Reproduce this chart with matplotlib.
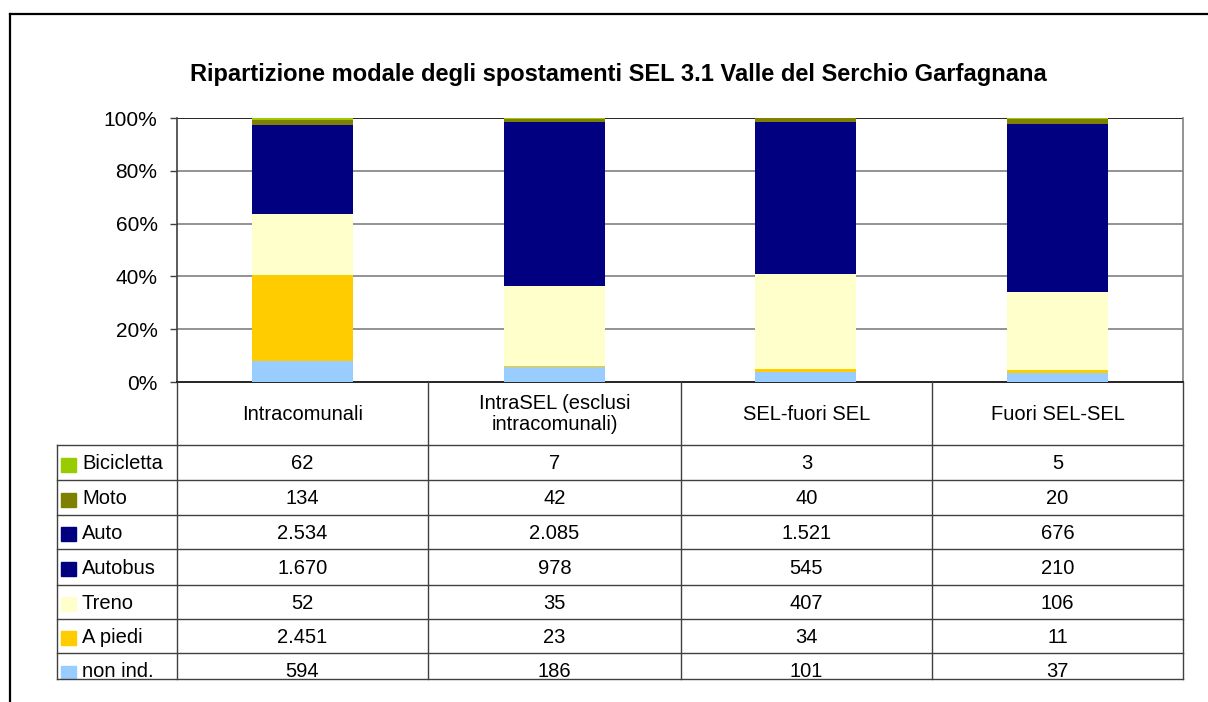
import numpy as np
import matplotlib
matplotlib.use("Agg")
import matplotlib.pyplot as plt
from matplotlib.patches import Rectangle

plt.rcParams['font.family'] = ['Liberation Sans', 'DejaVu Sans']

title = "Ripartizione modale degli spostamenti SEL 3.1 Valle del Serchio Garfagnana"
categories = ["Intracomunali", "IntraSEL (esclusi\nintracomunali)", "SEL-fuori SEL", "Fuori SEL-SEL"]

# series listed bottom-up as stacked in the bars
series = ["non ind.", "A piedi", "Treno", "Autobus", "Auto", "Moto", "Bicicletta"]
non_ind = [594, 186, 101, 37]
a_piedi = [2451, 23, 34, 11]
treno = [52, 35, 407, 106]
autobus = [1670, 978, 545, 210]
auto = [2534, 2085, 1521, 676]
moto = [134, 42, 40, 20]
bicicletta = [62, 7, 3, 5]
values = [non_ind, a_piedi, treno, autobus, auto, moto, bicicletta]

bar_colors = ["#99CCFF", "#FFCC00", "#FFFFCC", "#FFFFCC", "#000080", "#808000", "#99CC00"]
key_colors = ["#99CCFF", "#FFCC00", "#FFFFCC", "#000080", "#000080", "#808000", "#99CC00"]


def fmt(v):
    return "{:,}".format(v).replace(",", ".")


W, H = 1208, 702
fig = plt.figure(figsize=(W / 100, H / 100), dpi=100)

# plot area in pixel coords
x0, x1 = 177, 1183
y_top, y_bot = 118, 382
ax = fig.add_axes([x0 / W, 1 - y_bot / H, (x1 - x0) / W, (y_bot - y_top) / H])

data = np.array(values, dtype=float)
pct = data / data.sum(axis=0)
xs = np.arange(len(categories))
bottom = np.zeros(len(categories))
for i in range(len(series)):
    ax.bar(xs, pct[i], 0.4, bottom=bottom, color=bar_colors[i], zorder=3)
    bottom += pct[i]

ax.set_xlim(-0.5, len(categories) - 0.5)
ax.set_ylim(0, 1)
ax.set_yticks([0, 0.2, 0.4, 0.6, 0.8, 1.0])
ax.set_yticklabels(["0%", "20%", "40%", "60%", "80%", "100%"])
ax.set_xticks([])
ax.tick_params(axis='y', direction='out', length=5, width=1, color="#404040",
               labelsize=15, pad=9)
for yv in [0.2, 0.4, 0.6, 0.8]:
    ax.axhline(yv, color="#808080", lw=1.2, zorder=1)
ax.axhline(1.0, color="black", lw=1.2, zorder=1)
ax.spines['top'].set_visible(False)
ax.spines['left'].set_color("#404040")
ax.spines['right'].set_color("#808080")
ax.spines['bottom'].set_color("black")
for s in ax.spines.values():
    s.set_linewidth(1.2)

fig.text(618 / W, 1 - 75 / H, title, ha='center', va='center',
         fontsize=17, fontweight='bold')

# data table below the plot, pixel coordinates
tx0, tx1, ty0, ty1 = 40, 1200, 382, 679
tab = fig.add_axes([tx0 / W, 1 - ty1 / H, (tx1 - tx0) / W, (ty1 - ty0) / H])
tab.set_xlim(tx0, tx1)
tab.set_ylim(ty1, ty0)
tab.axis('off')
tab.patch.set_alpha(0)

cols = [177, 428, 681, 932, 1183]
rows = [445, 480, 515, 549, 585, 619, 653, 688]
lc = "#404040"
for c in cols:
    tab.plot([c, c], [382, 679], color=lc, lw=1.0, clip_on=False)
tab.plot([57, 57], [445, 679], color=lc, lw=1.0, clip_on=False)
for r in rows[:-1]:
    tab.plot([57, 1183], [r, r], color=lc, lw=1.0, clip_on=False)
tab.plot([57, 1183], [679, 679], color=lc, lw=1.0, clip_on=False)

for j, cat in enumerate(categories):
    cx = (cols[j] + cols[j + 1]) / 2
    tab.text(cx, 414, cat, ha='center', va='center', fontsize=14.5,
             linespacing=1.15)

top_down = list(range(len(series)))[::-1]
for k, i in enumerate(top_down):
    cy = (rows[k] + rows[k + 1]) / 2 + 1
    tab.add_patch(Rectangle((61, cy - 6), 15, 14, color=key_colors[i],
                            clip_on=True))
    tab.text(82, cy, series[i], ha='left', va='center', fontsize=14.5,
             clip_on=True)
    for j in range(len(categories)):
        cx = (cols[j] + cols[j + 1]) / 2
        tab.text(cx, cy, fmt(values[i][j]), ha='center', va='center',
                 fontsize=14.5, clip_on=True)

# outer chart border
fig.add_artist(plt.Line2D([10 / W, 1.0], [1 - 14 / H, 1 - 14 / H],
                          color="black", lw=1.6))
fig.add_artist(plt.Line2D([10 / W, 10 / W], [1 - 14 / H, 0.0],
                          color="black", lw=1.6))

fig.savefig("out.png", dpi=100)
